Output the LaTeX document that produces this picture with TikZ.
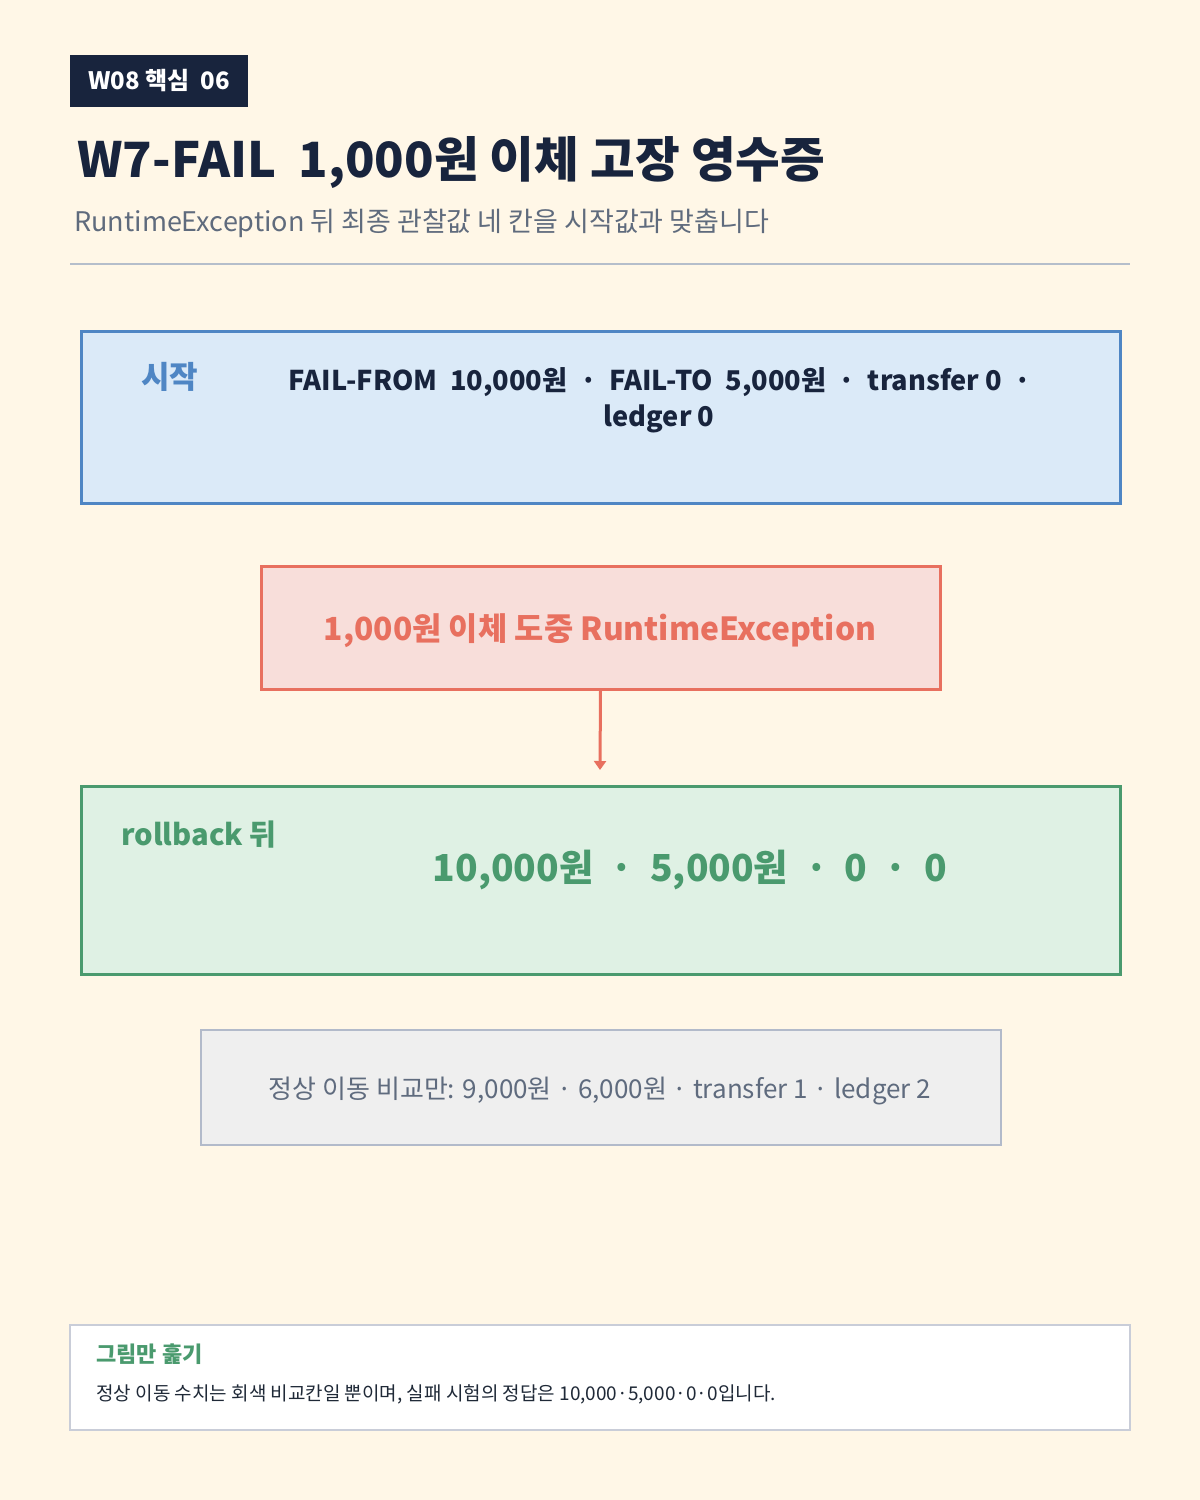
\documentclass[tikz,border=0pt]{standalone}
\usepackage{fontspec}
\setmainfont{Noto Sans CJK KR}
\usetikzlibrary{arrows.meta}
\definecolor{bg}{HTML}{FFF7E7}
\definecolor{navy}{HTML}{18243D}
\definecolor{subgray}{HTML}{5F6B7D}
\definecolor{rulec}{HTML}{B5BECB}
\definecolor{bluefill}{HTML}{DBEAF8}
\definecolor{blueline}{HTML}{4F86C4}
\definecolor{redfill}{HTML}{F8DEDA}
\definecolor{redline}{HTML}{E8705F}
\definecolor{greenfill}{HTML}{DFF1E4}
\definecolor{greenline}{HTML}{4A9A6E}
\definecolor{grayfill}{HTML}{EFEFEF}
\definecolor{grayline}{HTML}{B2BACA}
\definecolor{graytext}{HTML}{5F6B7E}
\definecolor{footline}{HTML}{C9CDD8}
\definecolor{foottext}{HTML}{1F2937}
\newcommand{\fsz}[1]{\fontsize{#1}{#1}\selectfont}
\tikzset{
  panel/.style={rectangle, inner sep=0pt, line width=1.5pt},
  txt/.style={inner sep=0pt, anchor=base west},
  ctxt/.style={inner sep=0pt, anchor=base},
}
\begin{document}
\begin{tikzpicture}[x=0.5pt,y=-0.5pt]
\useasboundingbox (0,0) rectangle (1200,1500);
\fill[bg] (0,0) rectangle (1200,1500);
% tag
\node[panel, fill=navy, draw=none, minimum width=89pt, minimum height=26pt] (tag) at (159,81) {};
\node[ctxt, text=white, font=\bfseries\fsz{12}] (tagtxt) at (159,89) {W08 핵심~~06};
% title
\node[txt, text=navy, font=\bfseries\fsz{24.3}] (title) at (77,177) {W7-FAIL~~1,000원 이체 고장 영수증};
\node[txt, text=subgray, font=\fsz{13.5}] (subtitle) at (74,231) {RuntimeException 뒤 최종 관찰값 네 칸을 시작값과 맞춥니다};
\draw[rulec, line width=1pt] (70,264) coordinate (r1) -- (1130,264) coordinate (r2);
% blue box
\node[panel, fill=bluefill, draw=blueline, minimum width=519.5pt, minimum height=86pt] (start) at (600.5,417.5) {};
\node[txt, text=blueline, font=\bfseries\fsz{15.5}] (startlbl) at (141,388) {시작};
\node[ctxt, text=navy, font=\bfseries\fsz{13.6}] (startl1) at (660,390) {FAIL-FROM~~10,000원~~·~~FAIL-TO~~5,000원~~·~~transfer 0~~·};
\node[ctxt, text=navy, font=\bfseries\fsz{13.6}] (startl2) at (659,426) {ledger 0};
% red box
\node[panel, fill=redfill, draw=redline, minimum width=339.5pt, minimum height=61.5pt] (fail) at (600.5,627.5) {};
\node[ctxt, text=redline, font=\bfseries\fsz{15.9}] (failtxt) at (600,640) {1,000원 이체 도중 RuntimeException};
% arrow
\coordinate (arrend) at (600,770);
\draw[redline, line width=1.5pt, -{Triangle[length=4.5pt,width=6pt]}] (fail.south) -- (arrend);
% green box
\node[panel, fill=greenfill, draw=greenline, minimum width=519.5pt, minimum height=94pt] (after) at (600.5,880.5) {};
\node[txt, text=greenline, font=\bfseries\fsz{14.6}] (afterlbl) at (121,845) {rollback 뒤};
\node[ctxt, text=greenline, font=\bfseries\fsz{18.6}] (aftervals) at (690,881) {10,000원~~·~~5,000원~~·~~0~~·~~0};
% gray box
\node[panel, fill=grayfill, draw=grayline, line width=1pt, minimum width=400pt, minimum height=57.5pt] (normal) at (600.5,1087.5) {};
\node[ctxt, text=graytext, font=\fsz{13}] (normaltxt) at (600,1098) {정상 이동 비교만: 9,000원 · 6,000원 · transfer 1 · ledger 2};
% footer
\node[panel, fill=white, draw=footline, line width=1pt, minimum width=530pt, minimum height=52.5pt] (foot) at (600,1377.5) {};
\node[txt, text=greenline, font=\bfseries\fsz{11}] (foottitle) at (96,1362) {그림만 훑기};
\node[txt, text=foottext, font=\fsz{9.5}] (footbody) at (96,1400) {정상 이동 수치는 회색 비교칸일 뿐이며, 실패 시험의 정답은 10,000·5,000·0·0입니다.};
\end{tikzpicture}
\end{document}
